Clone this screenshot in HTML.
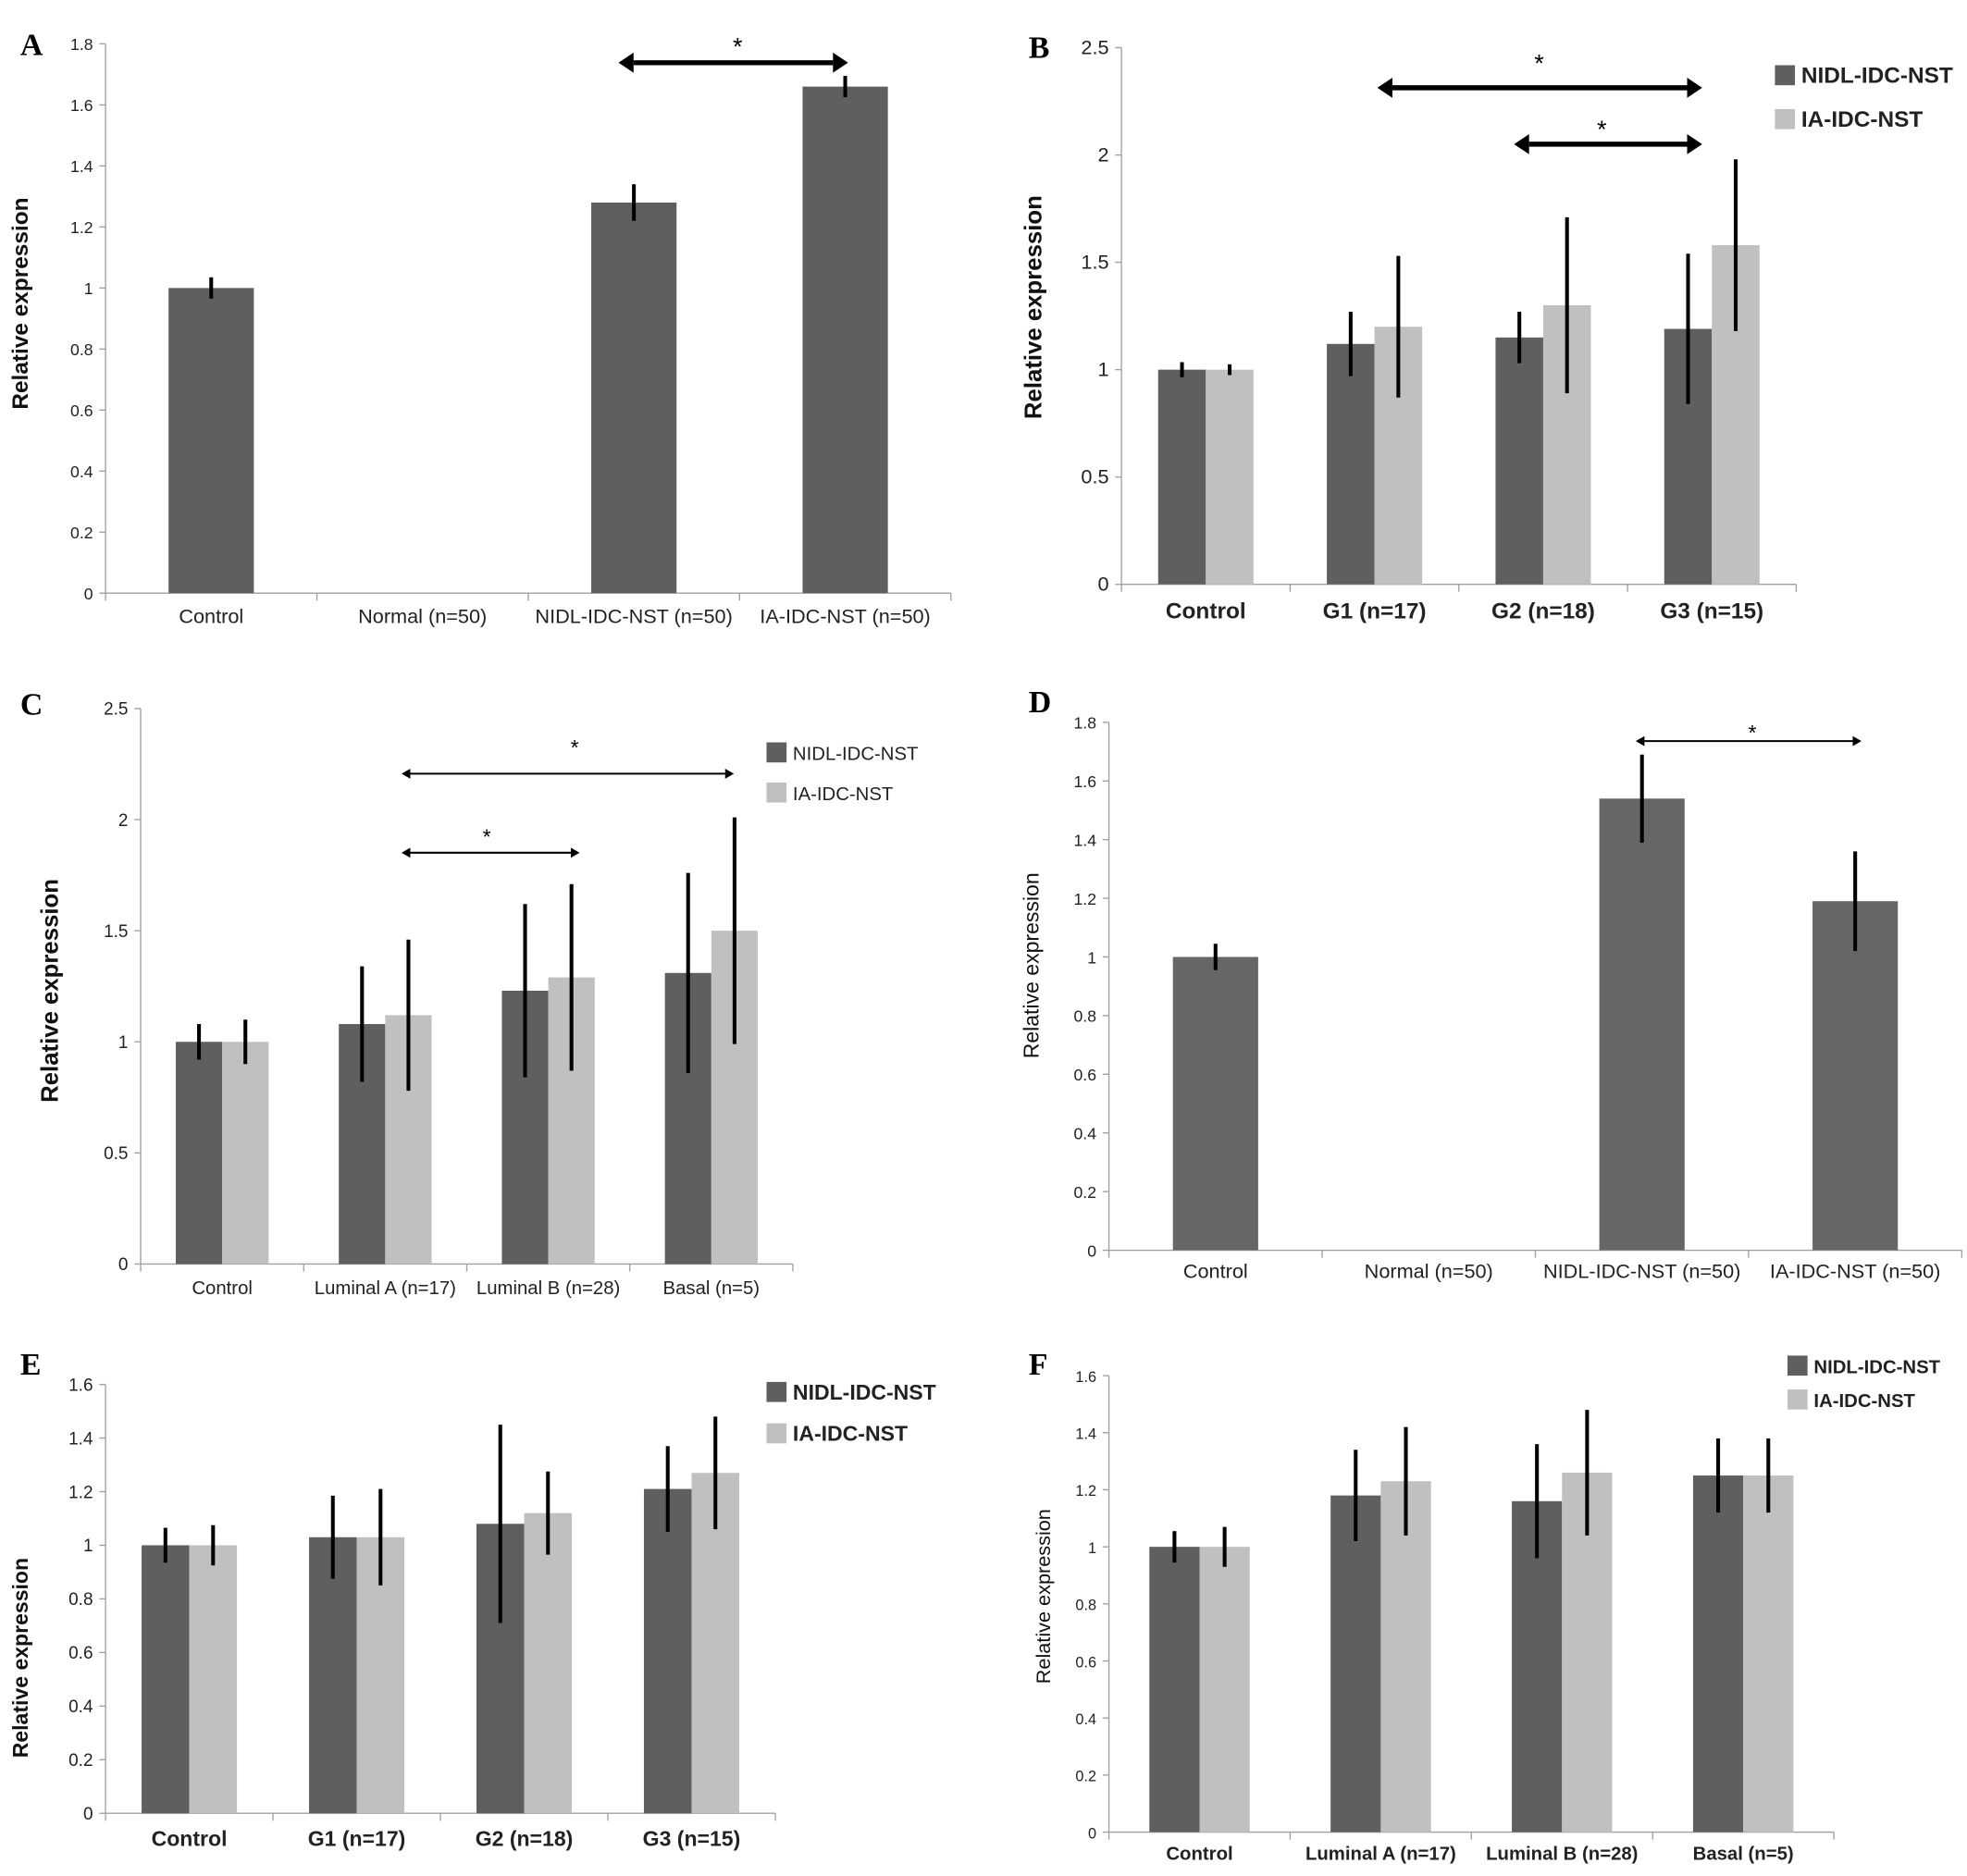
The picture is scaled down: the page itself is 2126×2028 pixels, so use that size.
<!DOCTYPE html>
<html><head><meta charset="utf-8"><style>
html,body{margin:0;padding:0;background:#fff}
svg{display:block}
text{font-family:"Liberation Sans",sans-serif}
</style></head><body>
<svg id="fig" width="2126" height="2028" viewBox="0 0 1568 1496" xmlns="http://www.w3.org/2000/svg"></svg>
<script>
// Panel A
const catsA=["Control","Normal (n=50)","NIDL-IDC-NST (n=50)","IA-IDC-NST (n=50)"];
const valsA=[1.0,null,1.28,1.66];
const errA=[0.035,null,0.06,0.035];
const ticksA=["0","0.2","0.4","0.6","0.8","1","1.2","1.4","1.6","1.8"];
// Panel B
const catsB=["Control","G1 (n=17)","G2 (n=18)","G3 (n=15)"];
const valsB1=[1.0,1.12,1.15,1.19];
const errB1=[0.035,0.15,0.12,0.35];
const valsB2=[1.0,1.20,1.30,1.58];
const errB2=[0.025,0.33,0.41,0.40];
const ticksB=["0","0.5","1","1.5","2","2.5"];
// Panel C
const catsC=["Control","Luminal A (n=17)","Luminal B (n=28)","Basal (n=5)"];
const valsC1=[1.0,1.08,1.23,1.31];
const errC1=[0.08,0.26,0.39,0.45];
const valsC2=[1.0,1.12,1.29,1.50];
const errC2=[0.1,0.34,0.42,0.51];
const ticksC=["0","0.5","1","1.5","2","2.5"];
// Panel D
const catsD=["Control","Normal (n=50)","NIDL-IDC-NST (n=50)","IA-IDC-NST (n=50)"];
const valsD=[1.0,null,1.54,1.19];
const errD=[0.045,null,0.15,0.17];
const ticksD=["0","0.2","0.4","0.6","0.8","1","1.2","1.4","1.6","1.8"];
// Panel E
const catsE=["Control","G1 (n=17)","G2 (n=18)","G3 (n=15)"];
const valsE1=[1.0,1.03,1.08,1.21];
const errE1=[0.065,0.155,0.37,0.16];
const valsE2=[1.0,1.03,1.12,1.27];
const errE2=[0.075,0.18,0.155,0.21];
const ticksE=["0","0.2","0.4","0.6","0.8","1","1.2","1.4","1.6"];
// Panel F
const catsF=["Control","Luminal A (n=17)","Luminal B (n=28)","Basal (n=5)"];
const valsF1=[1.0,1.18,1.16,1.25];
const errF1=[0.055,0.16,0.2,0.13];
const valsF2=[1.0,1.23,1.26,1.25];
const errF2=[0.07,0.19,0.22,0.13];
const ticksF=["0","0.2","0.4","0.6","0.8","1","1.2","1.4","1.6"];

const NS="http://www.w3.org/2000/svg";
const svg=document.getElementById('fig');
function mk(tag,attrs,parent,txt){const e=document.createElementNS(NS,tag);for(const k in attrs)e.setAttribute(k,attrs[k]);if(txt!==undefined)e.textContent=txt;(parent||svg).appendChild(e);return e;}
const DARK="#5f5f5f",LIGHT="#c0c0c0";

function panel(p){
  const g=mk('g',{});
  
  
  const max=parseFloat(p.ticks[p.ticks.length-1]);
  const y=v=>p.y0-(v/max)*(p.y0-p.ytop);
  const n=p.cats.length, cw=(p.x1-p.x0)/n;
  const cx=i=>p.x0+cw*(i+0.5);
  const L=mk('text',{x:p.lx,y:p.ly,style:'font-family:"Liberation Serif",serif;font-weight:bold;font-size:25px',fill:'#000'},g,p.id);
  
  const ya=mk('line',{x1:p.x0,y1:p.ytop,x2:p.x0,y2:p.y0,stroke:'#a0a0a0','stroke-width':1},g);
  
  const xa=mk('line',{x1:p.x0,y1:p.y0,x2:p.x1,y2:p.y0,stroke:'#a0a0a0','stroke-width':1},g);
  
  p.ticks.forEach(t=>{
    const v=parseFloat(t),yy=y(v);
    mk('line',{x1:p.x0-5,y1:yy,x2:p.x0,y2:yy,stroke:'#a0a0a0'},g);
    const tt=mk('text',{x:p.x0-10,y:yy+5,'font-size':p.tfs,'text-anchor':'end',fill:'#222'},g,t);
    
  });
  for(let i=0;i<=n;i++){mk('line',{x1:p.x0+cw*i,y1:p.y0,x2:p.x0+cw*i,y2:p.y0+6,stroke:'#a0a0a0'},g);}
  p.cats.forEach((c,i)=>{
    const t=mk('text',{x:cx(i),y:p.y0+p.cdy,'font-size':p.cfs,'font-weight':p.bold?'bold':'normal','text-anchor':'middle',fill:'#222'},g,c);
    
  });
  const yl=mk('text',{x:0,y:0,'font-size':p.yfs,'font-weight':p.ybold?'bold':'normal','text-anchor':'middle',transform:`translate(${p.ylx},${p.yly}) rotate(-90)`,fill:'#111'},g,'Relative expression');
  
  p.series.forEach((s,si)=>{
    s.vals.forEach((v,i)=>{
      if(v===null)return;
      const off=p.series.length===1?-p.bw/2:(si===0?-p.bw:0);
      const x=cx(i)+off;
      const r=mk('rect',{x:x,y:y(v),width:p.bw,height:p.y0-y(v),fill:s.color},g);
      
      
      const ex=x+p.bw/2,e=s.err[i];
      const el=mk('line',{x1:ex,y1:y(v+e),x2:ex,y2:y(v-e),stroke:'#000','stroke-width':3},g);
      
    });
  });
  if(p.legend){
    p.series.forEach((s,si)=>{
      const ly=p.legend.y+si*p.legend.dy;
      const sq=mk('rect',{x:p.legend.x,y:ly-8,width:16,height:16,fill:s.color},g);
      
      const lt=mk('text',{x:p.legend.x+21,y:ly+6,'font-size':p.legend.fs,'font-weight':p.bold?'bold':'normal',fill:'#222'},g,s.name);
      
    });
  }
  (p.arrows||[]).forEach(a=>{
    const h=a.thick?12:7, w=a.thick?4:1.5, hw=a.thick?8:4;
    const ln=mk('line',{x1:a.x1+h,y1:a.y,x2:a.x2-h,y2:a.y,stroke:'#000','stroke-width':w},g);
    
    mk('polygon',{points:`${a.x1},${a.y} ${a.x1+h},${a.y-hw} ${a.x1+h},${a.y+hw}`,fill:'#000'},g);
    mk('polygon',{points:`${a.x2},${a.y} ${a.x2-h},${a.y-hw} ${a.x2-h},${a.y+hw}`,fill:'#000'},g);
    const st=mk('text',{x:a.sx,y:a.sy,'font-size':a.thick?20:17,'text-anchor':'middle',fill:'#000'},g,'*');
    
  });
}

panel({id:'A',lx:16,ly:44,x0:84,x1:758,y0:473,ytop:35,cats:catsA,ticks:ticksA,tfs:13,cfs:16,cdy:24,bold:false,yfs:18,ybold:true,ylx:22,yly:242,bw:68,
  series:[{vals:valsA,err:errA,color:DARK}],arrows:[{x1:493,x2:676,y:50,sx:588,sy:44,thick:true}]});
panel({id:'B',lx:820,ly:46,x0:894,x1:1432,y0:466,ytop:38,cats:catsB,ticks:ticksB,tfs:16,cfs:18,cdy:27,bold:true,yfs:19,ybold:true,ylx:830,yly:245,bw:38,
  series:[{name:'NIDL-IDC-NST',vals:valsB1,err:errB1,color:DARK},{name:'IA-IDC-NST',vals:valsB2,err:errB2,color:LIGHT}],
  legend:{x:1415,y:60,dy:35,fs:18},
  arrows:[{x1:1098,x2:1357,y:70,sx:1227,sy:57,thick:true},{x1:1207,x2:1357,y:115,sx:1277,sy:110,thick:true}]});
panel({id:'C',lx:16,ly:570,x0:112,x1:632,y0:1008,ytop:565,cats:catsC,ticks:ticksC,tfs:14,cfs:15,cdy:24,bold:false,yfs:19,ybold:true,ylx:46,yly:790,bw:37,
  series:[{name:'NIDL-IDC-NST',vals:valsC1,err:errC1,color:DARK},{name:'IA-IDC-NST',vals:valsC2,err:errC2,color:LIGHT}],
  legend:{x:611,y:600,dy:32,fs:15},
  arrows:[{x1:320,x2:585,y:617,sx:458,sy:602,thick:false},{x1:320,x2:462,y:680,sx:388,sy:673,thick:false}]});
panel({id:'D',lx:820,ly:568,x0:884,x1:1564,y0:997,ytop:576,cats:catsD,ticks:ticksD,tfs:13,cfs:16,cdy:22,bold:false,yfs:17,ybold:false,ylx:828,yly:770,bw:68,
  series:[{vals:valsD,err:errD,color:'#666'}],arrows:[{x1:1304,x2:1484,y:591,sx:1397,sy:590,thick:false}]});
panel({id:'E',lx:16,ly:1096,x0:84,x1:618,y0:1446,ytop:1104,cats:catsE,ticks:ticksE,tfs:14,cfs:17,cdy:26,bold:true,yfs:17,ybold:true,ylx:22,yly:1322,bw:38,
  series:[{name:'NIDL-IDC-NST',vals:valsE1,err:errE1,color:DARK},{name:'IA-IDC-NST',vals:valsE2,err:errE2,color:LIGHT}],
  legend:{x:611,y:1110,dy:33,fs:17}});
panel({id:'F',lx:820,ly:1096,x0:884,x1:1462,y0:1461,ytop:1097,cats:catsF,ticks:ticksF,tfs:12,cfs:15,cdy:22,bold:true,yfs:16,ybold:false,ylx:837,yly:1273,bw:40,
  series:[{name:'NIDL-IDC-NST',vals:valsF1,err:errF1,color:DARK},{name:'IA-IDC-NST',vals:valsF2,err:errF2,color:LIGHT}],
  legend:{x:1425,y:1089,dy:27,fs:15}});
</script>
</body></html>
